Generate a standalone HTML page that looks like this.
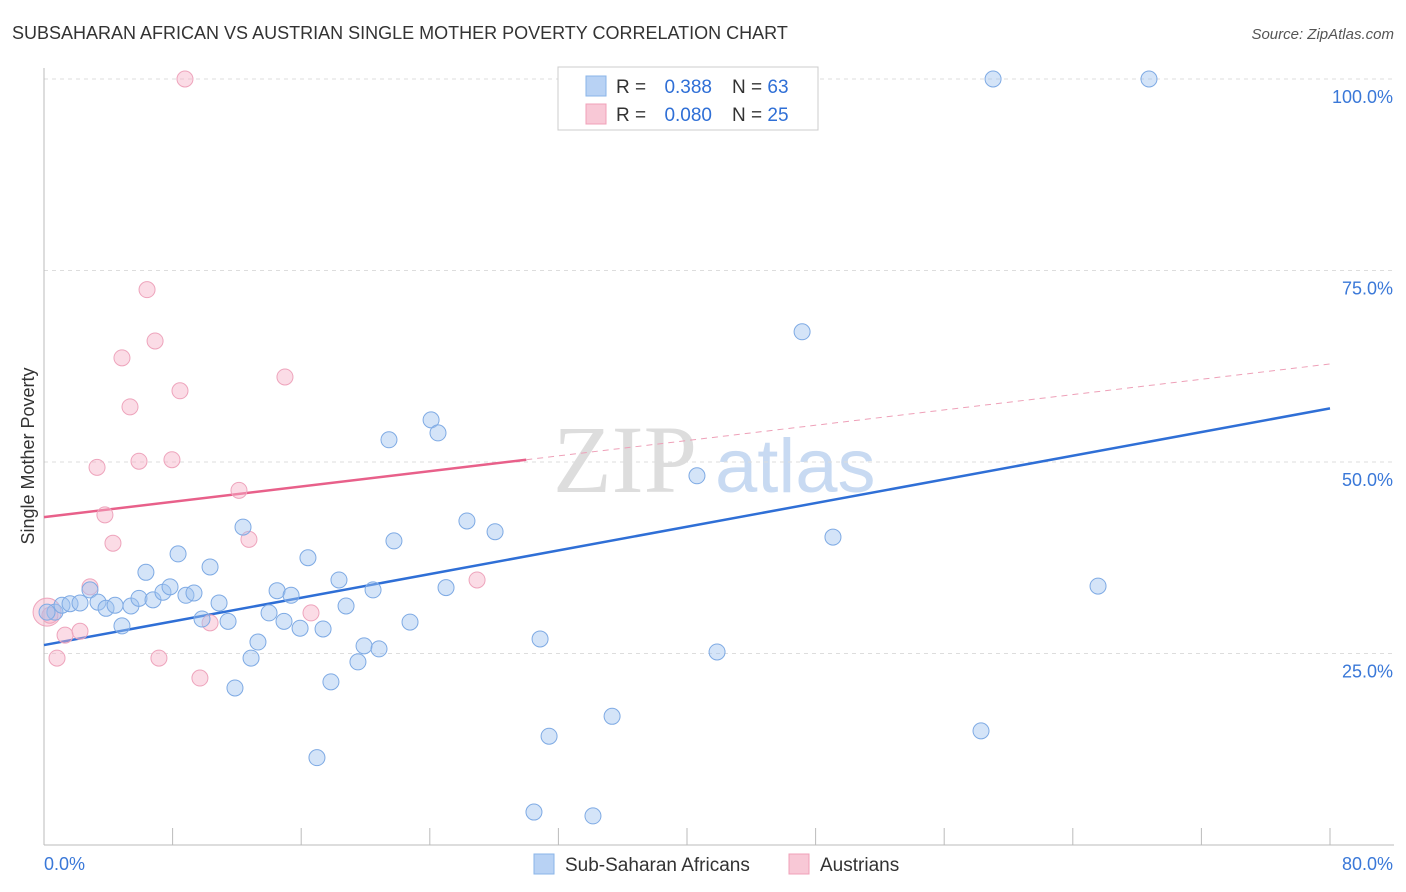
<!DOCTYPE html>
<html><head><meta charset="utf-8"><style>
body{margin:0;background:#fff;font-family:"Liberation Sans",sans-serif;}
svg{display:block}
</style></head><body>
<svg id="chart" width="1406" height="892">
<text x="12" y="39" font-size="18" fill="#333">SUBSAHARAN AFRICAN VS AUSTRIAN SINGLE MOTHER POVERTY CORRELATION CHART</text>
<text x="1394" y="39" font-size="15" fill="#555" font-style="italic" text-anchor="end">Source: ZipAtlas.com</text>
<text transform="translate(34,456) rotate(-90)" font-size="18" fill="#333" text-anchor="middle">Single Mother Poverty</text>
<g><text x="553" y="492" font-size="96" font-family="Liberation Serif,serif" fill="#ddd">ZIP</text><text x="715" y="492" font-size="76" fill="#c8daf2">atlas</text></g>
<g id="grid"></g><g id="axes"></g><g id="trends"></g><g id="points"></g>
<g>
<rect x="558" y="67" width="260" height="63" fill="#fff" stroke="#ccc"/>
<rect x="586" y="76" width="20" height="20" fill="#b8d2f4" stroke="#8ab4e8"/>
<rect x="586" y="104" width="20" height="20" fill="#f8c8d6" stroke="#f0a0b8"/>
<text x="616" y="93" font-size="19" fill="#333">R =</text>
<text x="712" y="93" font-size="19" fill="#2f6fd6" text-anchor="end">0.388</text>
<text x="732" y="93" font-size="19" fill="#333">N = <tspan fill="#2f6fd6">63</tspan></text>
<text x="616" y="121" font-size="19" fill="#333">R =</text>
<text x="712" y="121" font-size="19" fill="#2f6fd6" text-anchor="end">0.080</text>
<text x="732" y="121" font-size="19" fill="#333">N = <tspan fill="#2f6fd6">25</tspan></text>
</g>
<g>
<rect x="534" y="854" width="20" height="20" fill="#b8d2f4" stroke="#8ab4e8"/>
<text x="565" y="871" font-size="19" fill="#333">Sub-Saharan Africans</text>
<rect x="789" y="854" width="20" height="20" fill="#f8c8d6" stroke="#f0a0b8"/>
<text x="820" y="871" font-size="19" fill="#333">Austrians</text>
</g>
</svg>
<script>
const blueX=[0.68,1.12,1.62,2.24,2.86,3.36,3.86,4.42,4.85,5.41,5.91,6.34,6.78,7.40,7.84,8.34,8.83,9.33,9.83,10.33,10.89,11.45,11.88,12.38,12.88,13.31,14.00,14.50,14.93,15.37,15.93,16.42,16.98,17.36,17.85,18.35,18.79,19.53,19.91,20.47,20.84,21.46,21.77,22.77,24.08,24.51,25.01,26.31,28.06,30.48,30.86,31.42,34.15,35.34,40.62,41.87,47.16,49.08,58.29,59.04,65.57,68.74,0.19];
const blueY=[30.4,31.3,31.5,31.6,33.3,31.7,30.9,31.3,28.6,31.2,32.2,35.6,32.0,33.0,33.7,38.0,32.6,32.9,29.5,36.3,31.6,29.2,20.5,41.5,24.4,26.5,30.3,33.2,29.2,32.6,28.3,37.5,11.4,28.2,21.3,34.6,31.2,23.9,26.0,33.3,25.6,52.9,39.7,29.1,55.5,53.8,33.6,42.3,40.9,4.3,26.9,14.2,3.8,16.8,48.2,25.2,67.0,40.2,14.9,100,33.8,100,30.4];
const pinkX=[0.19,0.81,1.31,2.24,2.86,3.30,3.79,4.29,4.85,5.35,5.91,6.41,6.91,7.15,7.96,8.46,8.77,9.70,10.33,12.13,12.75,14.99,16.61,26.94,0.37];
const pinkY=[30.4,24.4,27.4,27.9,33.7,49.3,43.1,39.4,63.6,57.2,50.1,72.5,65.8,24.4,50.3,59.3,100,21.8,29.0,46.3,39.9,61.1,30.3,34.6,30.0];
const yTicks=[25,50,75,100];
const xTickLabels=["0.0%","80.0%"];
const blueTrend=[26.1,57.0];
const pinkTrend=[42.8,62.8];
const pinkSolidEnd=30;
const NS="http://www.w3.org/2000/svg";
const sx=v=>44+v/80*1286, sy=v=>845-v*7.66;
function mk(parent,tag,attrs){const e=document.createElementNS(NS,tag);for(const k in attrs)e.setAttribute(k,attrs[k]);document.getElementById(parent).appendChild(e);return e;}
yTicks.forEach(t=>{
 const l=mk('grid','line',{x1:44,x2:1394,y1:sy(t),y2:sy(t),stroke:'#ddd','stroke-dasharray':'4,4'});
 
 
 const tx=mk('grid','text',{x:1393,y:sy(t)+24,'font-size':18,fill:'#3a78d8','text-anchor':'end'});tx.textContent=t.toFixed(1)+'%';
 
 
});
const ya=mk('axes','line',{x1:44,x2:44,y1:68,y2:845,stroke:'#bbb'});


const xa=mk('axes','line',{x1:44,x2:1394,y1:845,y2:845,stroke:'#bbb'});


for(let i=0;i<=10;i++){const t=mk('axes','line',{x1:sx(i*8),x2:sx(i*8),y1:828,y2:845,stroke:'#bbb'});
 
 }
const xl0=mk('axes','text',{x:44,y:870,'font-size':18,fill:'#3a78d8'});xl0.textContent=xTickLabels[0];


const xl1=mk('axes','text',{x:1393,y:870,'font-size':18,fill:'#3a78d8','text-anchor':'end'});xl1.textContent=xTickLabels[1];


pinkX.forEach((x,i)=>{const c=mk('points','circle',{cx:sx(x),cy:sy(pinkY[i]),r:i==0?14:8,fill:'rgba(246,178,200,0.45)',stroke:'#eea4bc','stroke-width':1});
 
 });
blueX.forEach((x,i)=>{const c=mk('points','circle',{cx:sx(x),cy:sy(blueY[i]),r:8,fill:'rgba(160,196,240,0.45)',stroke:'#7eaae4','stroke-width':1});
 
 });
const bt=mk('trends','line',{x1:sx(0),y1:sy(blueTrend[0]),x2:sx(80),y2:sy(blueTrend[1]),stroke:'#2f6fd6','stroke-width':2.5});


const pm=pinkTrend[0]+(pinkTrend[1]-pinkTrend[0])*pinkSolidEnd/80;
const pt=mk('trends','line',{x1:sx(0),y1:sy(pinkTrend[0]),x2:sx(pinkSolidEnd),y2:sy(pm),stroke:'#e8608a','stroke-width':2.5});


const pd=mk('trends','line',{x1:sx(pinkSolidEnd),y1:sy(pm),x2:sx(80),y2:sy(pinkTrend[1]),stroke:'#eea0b8','stroke-width':1,'stroke-dasharray':'6,5'});


</script>
</body></html>
